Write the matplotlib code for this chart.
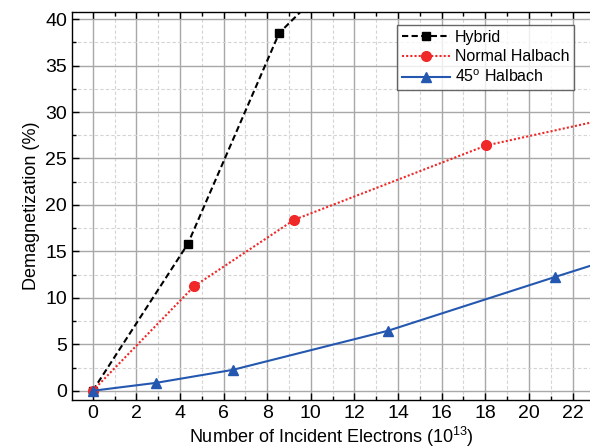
import matplotlib
matplotlib.use("Agg")
import matplotlib.pyplot as plt
from matplotlib.ticker import MultipleLocator

plt.rcParams['font.family'] = ['Liberation Sans', 'DejaVu Sans']
plt.rcParams['mathtext.fontset'] = 'custom'
plt.rcParams['mathtext.rm'] = 'Liberation Sans'

hybrid_x = [0, 4.36, 8.55, 13.5]
hybrid_y = [0, 15.8, 38.5, 50.0]

normal_x = [0, 4.65, 9.24, 18.04, 27.0]
normal_y = [0, 11.25, 18.4, 26.4, 31.0]

h45_x = [0, 2.9, 6.42, 13.54, 21.2, 28.0]
h45_y = [0, 0.85, 2.25, 6.46, 12.25, 17.3]

xticks = list(range(0, 23, 2))
yticks = list(range(0, 41, 5))

fig = plt.figure(figsize=(5.9, 4.48), dpi=100)
ax = fig.add_axes([0.122, 0.107, 0.878, 0.867])

ax.plot(hybrid_x, hybrid_y, color='black', linestyle=(0, (3, 1.6)), lw=1.5,
        marker='s', ms=6, label='Hybrid')
ax.plot(normal_x, normal_y, color='#f02828', linestyle=(0, (1, 1)), lw=1.5,
        marker='o', ms=7, label='Normal Halbach')
ax.plot(h45_x, h45_y, color='#2458b0', linestyle='-', lw=1.5,
        marker='^', ms=7, label='45$^\\mathrm{o}$ Halbach')

ax.set_xlim(-0.95, 22.8)
ax.set_ylim(-1.0, 40.8)
ax.set_xticks(xticks)
ax.set_yticks(yticks)
ax.xaxis.set_minor_locator(MultipleLocator(1))
ax.yaxis.set_minor_locator(MultipleLocator(2.5))

ax.grid(which='major', color='#a8a8a8', lw=1.0, ls='-')
ax.grid(which='minor', color='#d4d4d4', lw=0.8, ls=(0, (3, 2)))
ax.set_axisbelow(True)

ax.tick_params(which='both', direction='in', top=True, right=False,
               labelsize=14, color='black', width=1)
ax.tick_params(which='major', length=5)
ax.tick_params(which='minor', length=3)
for s in ['left', 'bottom', 'top']:
    ax.spines[s].set_linewidth(1.0)
    ax.spines[s].set_color('black')
ax.spines['right'].set_visible(False)

ax.set_xlabel('Number of Incident Electrons (10$^{13}$)', fontsize=13, labelpad=2)
ax.set_ylabel('Demagnetization (%)', fontsize=13, labelpad=4)

leg = ax.legend(loc='upper right', bbox_to_anchor=(0.969, 0.966), fontsize=11.5,
                frameon=True, fancybox=False, edgecolor='#404040',
                borderpad=0.3, labelspacing=0.28, handlelength=3.0,
                handletextpad=0.3, borderaxespad=0)
leg.get_frame().set_linewidth(1.0)

fig.savefig('out.png', dpi=100)
